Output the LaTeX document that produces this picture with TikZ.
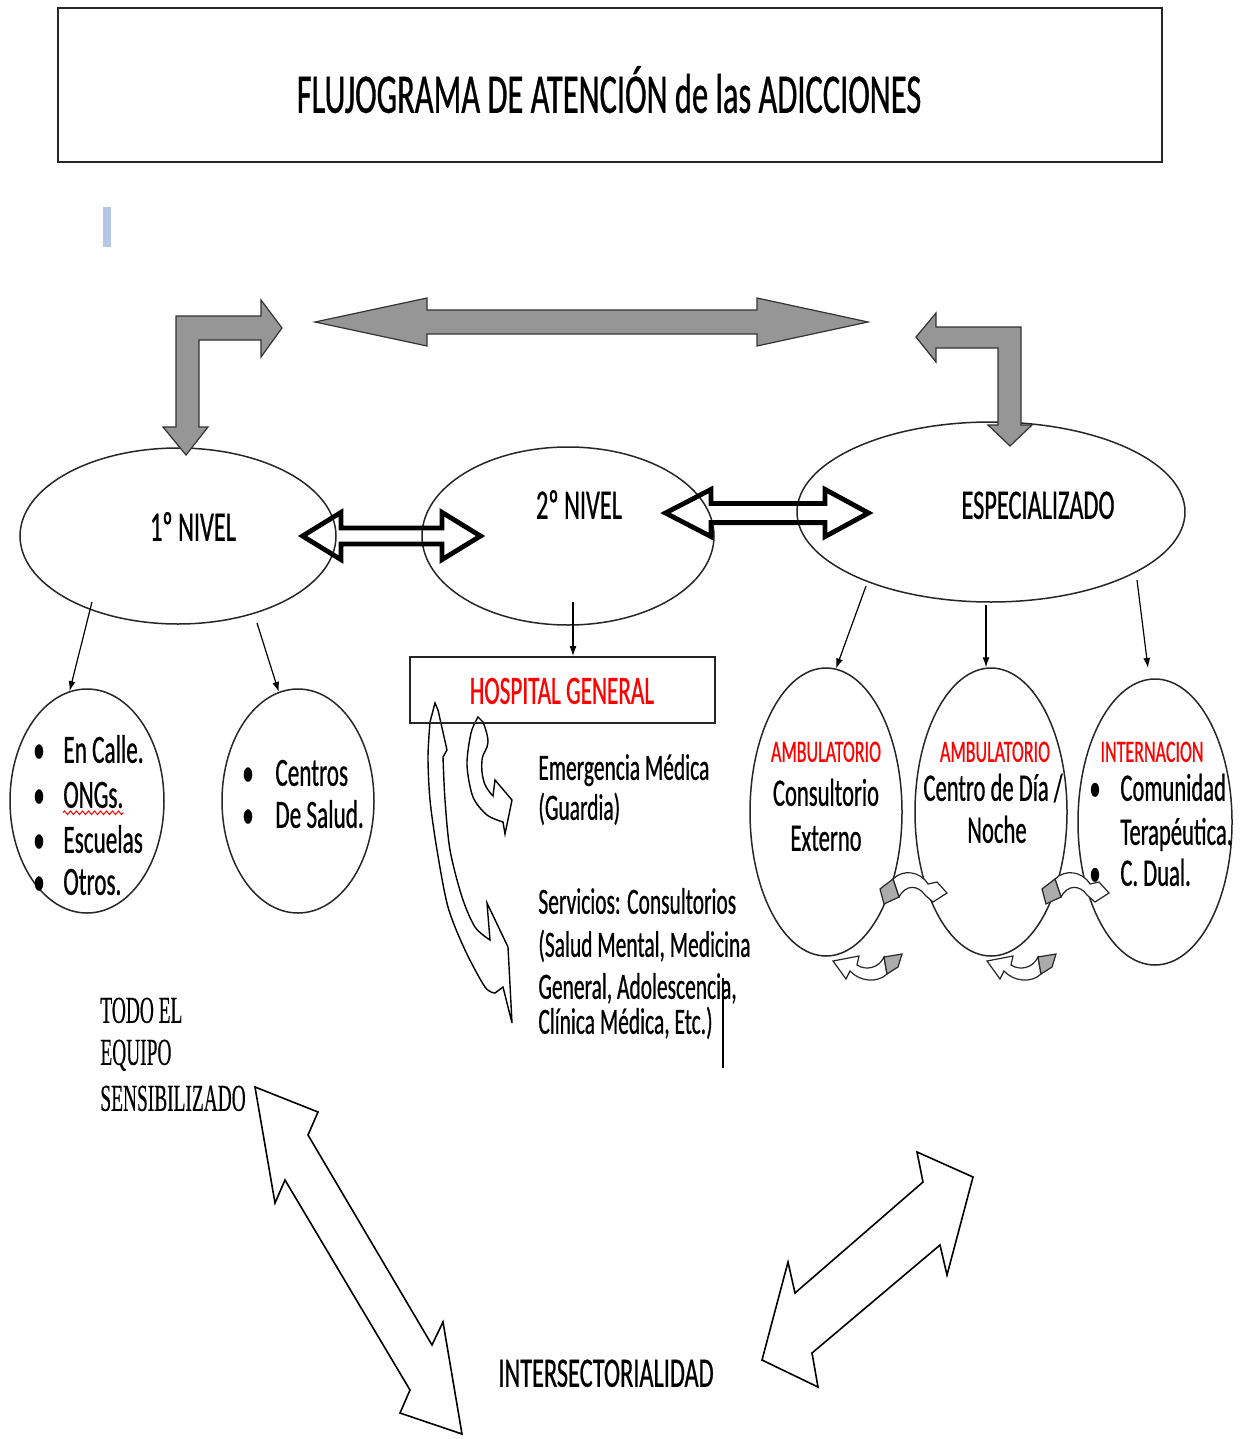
\documentclass[tikz,border=0pt]{standalone}
\usepackage{fontspec}
\setmainfont{Carlito}
\newfontfamily\cf[FakeStretch=0.58,FakeBold=0.6]{Carlito}
\newfontfamily\tf[FakeStretch=0.51,FakeBold=0.3]{Liberation Serif}
\usetikzlibrary{shapes.geometric,arrows.meta,decorations.pathmorphing}
\definecolor{arrowgray}{HTML}{969696}
\definecolor{barblue}{HTML}{B4C7E7}
\definecolor{hred}{HTML}{FF0000}
\newcommand{\myfs}[1]{\fontsize{#1pt}{#1pt}\selectfont}
\tikzset{
  oval/.style={ellipse, draw=black!85, line width=0.75pt, inner sep=0pt},
  txt/.style={inner sep=0pt, font=\cf},
  conn/.style={-{Latex[length=5pt,width=3.5pt]}, line width=0.6pt},
  grayarrow/.style={fill=arrowgray, draw=black!80, line width=0.6pt, line join=miter},
  hollow/.style={draw=black, line width=2.4pt, line join=miter},
  outlinearrow/.style={draw=black, line width=0.8pt, fill=white, line join=miter},
  smallarrow/.style={draw=black!85, line width=0.6pt, fill=white},
  grayend/.style={draw=black!85, line width=0.6pt, fill=arrowgray!80},
}
\begin{document}
\begin{tikzpicture}[x=0.5pt, y=-0.5pt]
\useasboundingbox (0,0) rectangle (1251,1439);

% title
\node[draw=black!85, line width=1.2pt, minimum width=552pt, minimum height=77pt, inner sep=0pt] (titlebox) at (610,85) {};
\node[txt, anchor=mid] (ttl) at (609,108) {\myfs{28}FLUJOGRAMA DE ATENCIÓN de las ADICCIONES};

% small blue bar
\fill[barblue] (103,207) rectangle (111,247);

% main ellipses
\node[oval, minimum width=158pt, minimum height=88pt] (n1) at (178,536) {};
\node[oval, minimum width=146pt, minimum height=89pt] (n2) at (568,536) {};
\node[oval, minimum width=194pt, minimum height=90pt] (n3) at (991,512) {};
\node[txt, anchor=mid] (n1t) at (193,536) {\myfs{21}1º NIVEL};
\node[txt, anchor=mid] (n2t) at (579,514) {\myfs{21}2º NIVEL};
\node[txt, anchor=mid] (n3t) at (1038,514) {\myfs{21}ESPECIALIZADO};

% sub ellipses
\node[oval, minimum width=77pt, minimum height=112pt] (e1) at (87,801) {};
\node[oval, minimum width=76pt, minimum height=112pt] (e2) at (298,801) {};
\node[oval, minimum width=76pt, minimum height=144pt] (a1) at (826,812) {};
\node[oval, minimum width=76pt, minimum height=144pt] (a2) at (991,812) {};
\node[oval, minimum width=77pt, minimum height=143pt] (a3) at (1155,822) {};

% e1 items
\foreach \yy/\nm/\tx in {758/ca/En Calle., 803/ong/ONGs., 848/esc/Escuelas, 890/otr/Otros.}{
  \node[txt, anchor=mid] (b\nm) at (39,\yy) {\myfs{20}•};
  \node[txt, anchor=mid west] (\nm) at (63,\yy) {\myfs{20}\tx};
}
\draw[hred, line width=0.5pt, decorate, decoration={zigzag, segment length=3pt, amplitude=0.9pt}]
  ([yshift=-2.5pt]ong.base west) -- ([yshift=-2.5pt]ong.base east);
% e2 items
\node[txt, anchor=mid] (bcen) at (248,781) {\myfs{20}•};
\node[txt, anchor=mid west] (cen) at (275,781) {\myfs{20}Centros};
\node[txt, anchor=mid] (bsal) at (248,823) {\myfs{20}•};
\node[txt, anchor=mid west] (sal) at (275,823) {\myfs{20}De Salud.};

% ambulatorio texts
\node[txt, anchor=mid, text=hred] (a1r) at (826,757) {\myfs{15.5}AMBULATORIO};
\node[txt, anchor=mid] (a1x) at (826,801) {\myfs{19.5}Consultorio};
\node[txt, anchor=mid] (a1y) at (826,846) {\myfs{19.5}Externo};
\node[txt, anchor=mid, text=hred] (a2r) at (995,757) {\myfs{15.5}AMBULATORIO};
\node[txt, anchor=mid] (a2x) at (993,796) {\myfs{19.5}Centro de Día /};
\node[txt, anchor=mid] (a2y) at (997,838) {\myfs{19.5}Noche};
\node[txt, anchor=mid, text=hred] (a3r) at (1152,757) {\myfs{15.5}INTERNACION};
\node[txt, anchor=mid] (b3a) at (1095,796) {\myfs{19.5}•};
\node[txt, anchor=mid west] (a3x) at (1120,796) {\myfs{19.5}Comunidad};
\node[txt, anchor=mid west] (a3y) at (1120,840) {\myfs{19.5}Terapéutica.};
\node[txt, anchor=mid] (b3b) at (1095,881) {\myfs{19.5}•};
\node[txt, anchor=mid west] (a3z) at (1120,881) {\myfs{19.5}C. Dual.};

% hollow double arrows between levels
\draw[hollow] (302.5,536) -- (341,512.4) -- (341,528) -- (442,528) -- (442,512.4) -- (480.5,536)
  -- (442,559.6) -- (442,544) -- (341,544) -- (341,559.6) -- cycle;
\draw[hollow] (665.5,513) -- (711,489.4) -- (711,503.4) -- (825,503.4) -- (825,489.4) -- (868.5,513)
  -- (825,536.6) -- (825,522.6) -- (711,522.6) -- (711,536.6) -- cycle;

% gray arrows on top
\draw[grayarrow] (176,427) -- (163,427) -- (186,455) -- (208,427) -- (199,427) -- (199,340)
  -- (261,340) -- (261,357) -- (282,328) -- (261,300) -- (261,316) -- (176,316) -- cycle;
\draw[grayarrow] (315,322) -- (427,298) -- (427,310) -- (757,310) -- (757,298) -- (868,322)
  -- (757,346) -- (757,334) -- (427,334) -- (427,346) -- cycle;
\draw[grayarrow] (916,337) -- (936,313) -- (936,327) -- (1021,327) -- (1021,425) -- (1032,425)
  -- (1010,446) -- (988,425) -- (998,425) -- (998,348) -- (936,348) -- (936,362) -- cycle;

% thin connectors
\coordinate (s1) at (92,602);
\coordinate (s2) at (257,623);
\coordinate (s3) at (573,602);
\coordinate (s4) at (866,586);
\coordinate (s5) at (986,605);
\coordinate (s6) at (1137,580);
\coordinate (e6) at (1148,668);
\draw[conn] (s1) -- (e1.99);
\draw[conn] (s2) -- (e2.100);
\draw[conn] (s4) -- (a1.86);
\draw[conn] (s5) -- (s5 |- a2.north);
\draw[conn] (s6) -- (e6);

% hospital curved arrows
\draw[outlinearrow, line width=0.7pt] (435,703) -- (438,710) -- (447,750) -- (443,757)
  -- plot[smooth] coordinates {(443,757) (445,800) (450,850) (462,897) (475,927) (490,940)}
  -- (487,903) -- (508,947) -- (512,1023) -- (503,987)
  -- plot[smooth] coordinates {(495,993) (485,987) (465,950) (448,907) (437,850) (430,800) (428,757) (430,722)}
  -- cycle;
\draw[outlinearrow, line width=0.7pt] (478,717)
  -- plot[smooth, tension=0.7] coordinates {(483,722) (488,742) (482,760) (484,782) (493,796)}
  -- (495,780) -- (512,800) -- (505,834)
  -- plot[smooth] coordinates {(503,822) (487,815) (473,797) (467,765) (471,733) (478,717)}
  -- cycle;

% hospital box
\node[draw=black!85, line width=1pt, minimum width=152.5pt, minimum height=33pt, inner sep=0pt] (hosp) at (562.5,690) {};
\node[txt, anchor=mid, text=hred] (hosptxt) at (562,699) {\myfs{20}HOSPITAL GENERAL};
\draw[conn] (s3) -- (s3 |- hosp.north);

\node[txt, anchor=mid west] (em1) at (538,775) {\myfs{18.5}Emergencia Médica};
\node[txt, anchor=mid west] (em2) at (538,815) {\myfs{18.5}(Guardia)};
\node[txt, anchor=mid west] (sv1) at (538,909) {\myfs{18.5}Servicios: Consultorios};
\node[txt, anchor=mid west] (sv2) at (538,952) {\myfs{18.5}(Salud Mental, Medicina};
\node[txt, anchor=mid west] (sv3) at (538,994) {\myfs{18.5}General, Adolescencia,};
\node[txt, anchor=mid west] (sv4) at (538,1029) {\myfs{18.5}Clínica Médica, Etc.)};
\coordinate (cur1) at (723,978);
\coordinate (cur2) at (723,1068);
\draw[line width=0.8pt] (cur1) -- (cur2);

% small gray curved arrows between ambulatorio ellipses
\foreach \dx/\ddx in {0/0, 162/154}{
  \begin{scope}[shift={(\dx,0)}]
    \draw[smallarrow] (893,879) .. controls (903,869) and (920,871) .. (928,884) -- (937,882) -- (947,893)
      -- (933,902) -- (925,895) .. controls (918,885) and (906,884) .. (899,897) -- cycle;
    \draw[grayend] (880,889) -- (893,879) -- (899,897) -- (884,904) -- cycle;
  \end{scope}
  \begin{scope}[shift={(\ddx,0)}]
    \draw[smallarrow] (884,957) .. controls (879,968) and (866,971) .. (857,965) -- (859,956) -- (833,961)
      -- (846,979) -- (850,971) .. controls (860,982) and (878,983) .. (887,974) -- cycle;
    \draw[grayend] (884,957) -- (902,954) -- (898,967) -- (887,974) -- cycle;
  \end{scope}
}

% bottom part
\node[txt, font=\tf, anchor=mid west] (todo1) at (100,1018) {\myfs{19}TODO EL};
\node[txt, font=\tf, anchor=mid west] (todo2) at (100,1060) {\myfs{19}EQUIPO};
\node[txt, font=\tf, anchor=mid west] (todo3) at (100,1106) {\myfs{19}SENSIBILIZADO};
\node[txt, anchor=mid] (inter) at (606,1382) {\myfs{21}INTERSECTORIALIDAD};

\draw[outlinearrow] (255,1087) -- (318,1112) -- (308,1135) -- (432,1345) -- (443,1322) -- (462,1434)
  -- (400,1413) -- (410,1390) -- (285,1180) -- (275,1203) -- cycle;
\draw[outlinearrow] (973,1177) -- (917,1152) -- (923,1182) -- (795,1293) -- (788,1262) -- (762,1360)
  -- (818,1387) -- (812,1353) -- (940,1245) -- (947,1275) -- cycle;
\end{tikzpicture}
\end{document}
